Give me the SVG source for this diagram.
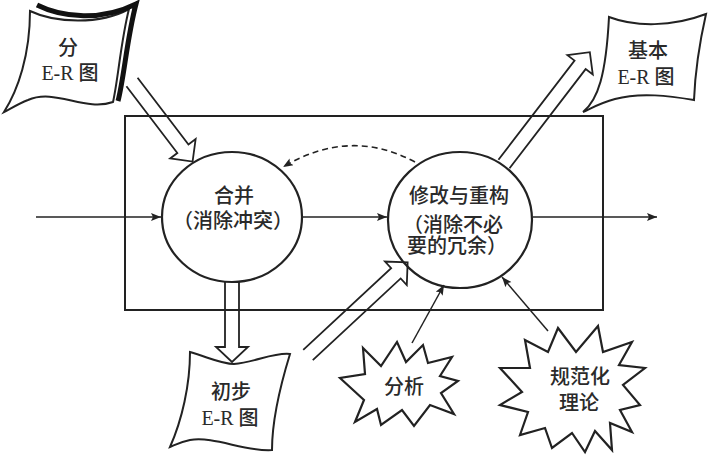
<svg xmlns="http://www.w3.org/2000/svg" width="710" height="458" viewBox="0 0 710 458">
<defs>
<style>
.ln{fill:none;stroke:#222;stroke-width:2}
.thin{fill:none;stroke:#222;stroke-width:1.5}
.dash{fill:none;stroke:#222;stroke-width:1.6;stroke-dasharray:6 4}
.hollow{fill:none;stroke:#222;stroke-width:1.8;stroke-linejoin:miter}
.page{fill:#fff;stroke:#222;stroke-width:2}
.star{fill:#fff;stroke:#222;stroke-width:2.2;stroke-linejoin:miter}
.t{font-family:"Liberation Serif","Noto Sans CJK SC",serif;font-size:20px;font-weight:500;fill:#2a2a2a;text-anchor:middle;dominant-baseline:central}
</style>
<marker id="ah" viewBox="0 0 10 8" refX="10" refY="4" markerWidth="11" markerHeight="8" markerUnits="userSpaceOnUse" orient="auto"><path d="M0,0 L10,4 L0,8 L2,4 Z" fill="#222"/></marker>
</defs>
<rect width="710" height="458" fill="#fff"/>

<rect id="frame" x="125" y="116" width="478" height="194" class="ln"/>

<g id="connectors">
  <line x1="36" y1="217" x2="161" y2="217" class="thin" marker-end="url(#ah)"/>
  <line x1="302" y1="217" x2="387" y2="217" class="thin" marker-end="url(#ah)"/>
  <line x1="533" y1="217" x2="657" y2="217" class="thin" marker-end="url(#ah)"/>
  <path d="M415,162 Q350,127 283,167" class="dash" marker-end="url(#ah)"/>
  <line x1="412" y1="343" x2="444" y2="285" class="thin" marker-end="url(#ah)"/>
  <line x1="548" y1="331" x2="502" y2="277" class="thin" marker-end="url(#ah)"/>
  <path transform="translate(132,82) rotate(52.7)" d="M0,-7 H84 V-16 L100,0 L84,16 V7 H0" class="hollow"/>
  <path transform="translate(232,282) rotate(90)" d="M0,-7 H65 V-16 L80,0 L65,16 V7 H0" class="hollow"/>
  <path transform="translate(308,355) rotate(-42.9)" d="M0,-7 H120 V-16 L136,0 L120,16 V7 H0" class="hollow"/>
  <path transform="translate(504,164) rotate(-52.5)" d="M0,-7 H125 V-16 L141,0 L125,16 V7 H0" class="hollow"/>
</g>

<g id="merge">
  <ellipse cx="232" cy="217" rx="70" ry="65" class="ln" style="stroke-width:2.2"/>
  <text class="t" x="234" y="196">合并</text>
  <text class="t" x="233" y="221">（消除冲突）</text>
</g>

<g id="refine">
  <ellipse cx="460" cy="220" rx="72" ry="68" class="ln" style="stroke-width:2.2"/>
  <text class="t" x="459" y="196">修改与重构</text>
  <text class="t" x="453" y="225">（消除不必</text>
  <text class="t" x="457" y="246">要的冗余）</text>
</g>

<g id="sub-er">
  <path d="M30,11 C55,23 100,25 129,9 C121,40 118,80 113,102 C85,112 55,88 28,100 C18,104 10,109 4,112 C18,90 30,55 30,11 Z" class="page"/>
  <path d="M37,5 C63,18 102,21 136,4 C127,38 124,78 118,101" fill="none" stroke="#111" stroke-width="5"/>
  <text class="t" x="68" y="48">分</text>
  <text class="t" x="70" y="73">E-R 图</text>
</g>

<g id="basic-er">
  <path d="M609,17 C635,27 672,27 706,14 C699,45 695,75 694,100 C670,96 640,92 615,99 C600,103 592,108 583,112 C598,100 606,75 609,17 Z" class="page"/>
  <text class="t" x="648" y="51">基本</text>
  <text class="t" x="646" y="77">E-R 图</text>
</g>

<g id="init-er">
  <path d="M190,352 C210,358 222,364 234,364 C255,362 275,352 290,354 C282,380 272,420 272,450 C245,452 215,436 190,440 C180,442 175,445 170,447 C182,420 190,385 190,352 Z" class="page"/>
  <text class="t" x="231" y="392">初步</text>
  <text class="t" x="230" y="418">E-R 图</text>
</g>

<g id="analysis">
  <path d="M363,348 L381,366 L397,342 L406,362 L423,345 L428,363 L452,357 L440,376 L458,381 L441,393 L454,414 L430,405 L414,426 L402,410 L381,425 L377,409 L355,422 L364,400 L340,378 L365,374 Z" class="star"/>
  <text class="t" x="404" y="387">分析</text>
</g>

<g id="theory">
  <path d="M558,328 L576,352 L598,326 L603,352 L632,342 L619,365 L645,368 L623,385 L640,405 L620,410 L632,432 L610,423 L612,450 L595,431 L585,452 L572,433 L552,448 L545,428 L520,435 L528,412 L500,405 L522,392 L500,368 L530,368 L525,340 L548,352 Z" class="star"/>
  <text class="t" x="580" y="377">规范化</text>
  <text class="t" x="579" y="403">理论</text>
</g>
</svg>
